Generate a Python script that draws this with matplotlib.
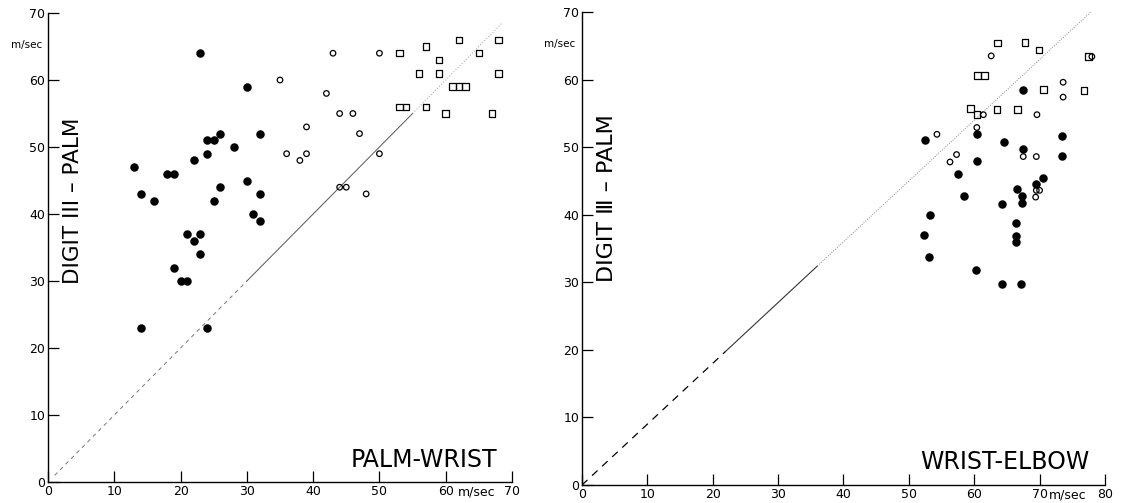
import numpy as np
import matplotlib
matplotlib.use('Agg')
import matplotlib.pyplot as plt
import matplotlib.transforms as mtransforms

# Left panel: PALM-WRIST vs DIGIT III-PALM
left_dot_x = [13, 14, 16, 18, 19, 23, 22, 24, 24, 25, 26, 28, 30, 32, 30, 26, 25, 32, 31, 32,
              21, 23, 22, 23, 19, 20, 21, 14, 24]
left_dot_y = [47, 43, 42, 46, 46, 64, 48, 49, 51, 51, 52, 50, 59, 52, 45, 44, 42, 43, 40, 39,
              37, 37, 36, 34, 32, 30, 30, 23, 23]
left_circ_x = [35, 43, 50, 42, 44, 46, 39, 47, 36, 38, 39, 50, 44, 45, 48]
left_circ_y = [60, 64, 64, 58, 55, 55, 53, 52, 49, 48, 49, 49, 44, 44, 43]
left_sq_x = [53, 57, 62, 68, 65, 59, 56, 59, 68, 61, 62, 63, 53, 54, 57, 60, 67]
left_sq_y = [64, 65, 66, 66, 64, 63, 61, 61, 61, 59, 59, 59, 56, 56, 56, 55, 55]

# Right panel: WRIST-ELBOW vs DIGIT III-PALM
right_dot_x = [67.5, 52.4, 60.5, 64.5, 67.5, 73.5, 73.5, 60.5, 57.5, 70.5, 69.5, 66.5, 58.5,
               67.3, 67.3, 64.3, 53.2, 66.4, 52.3, 66.4, 66.4, 53.1, 60.3, 64.3, 67.2]
right_dot_y = [58.5, 51, 52, 50.7, 49.7, 51.6, 48.7, 48, 46, 45.5, 44.6, 43.8, 42.8,
               42.7, 41.8, 41.6, 40, 38.7, 37, 36.9, 36, 33.8, 31.8, 29.7, 29.7]
right_circ_x = [62.6, 73.6, 73.6, 69.6, 61.4, 54.3, 60.4, 57.3, 56.3, 67.5, 69.5, 69.5, 70.0, 69.4, 78]
right_circ_y = [63.5, 59.6, 57.4, 54.8, 54.8, 51.9, 52.9, 48.9, 47.8, 48.6, 48.6, 43.6, 43.6, 42.6, 63.4]
right_sq_x = [63.6, 67.8, 69.9, 77.5, 60.5, 61.6, 70.6, 76.8, 59.4, 63.5, 66.6, 60.4]
right_sq_y = [65.4, 65.5, 64.4, 63.4, 60.6, 60.6, 58.5, 58.4, 55.7, 55.6, 55.6, 54.8]

left_xticks = [0, 10, 20, 30, 40, 50, 60, 70]
right_xticks = [0, 10, 20, 30, 40, 50, 60, 70, 80]
yticks = [0, 10, 20, 30, 40, 50, 60, 70]

fig = plt.figure(figsize=(11.22, 5.03), dpi=100)
ax1 = fig.add_axes([0.0428, 0.0417, 0.4135, 0.9324])
ax2 = fig.add_axes([0.5187, 0.0358, 0.4661, 0.9404])


def style_axes(ax, xmax, xticks, ylab, ylab_pos, ylab_size, xlab, xlab_pos, unit_x):
    ax.set_xlim(0, xmax)
    ax.set_ylim(0, 70)
    ax.spines['top'].set_visible(False)
    ax.spines['right'].set_visible(False)
    ax.spines['left'].set_linewidth(1.0)
    ax.spines['bottom'].set_linewidth(1.0)
    ax.set_xticks(xticks)
    ax.set_yticks(yticks)
    ax.tick_params(direction='in', length=8, width=0.9, labelsize=9, pad=2)
    ax.text(ylab_pos[0], ylab_pos[1], ylab, transform=ax.transAxes, rotation=90,
            ha='center', va='center', fontsize=ylab_size)
    ax.text(xlab_pos[0], xlab_pos[1], xlab, transform=ax.transAxes, ha='right', va='center',
            fontsize=17)
    ax.text(-0.012, 65.2, 'm/sec', transform=mtransforms.blended_transform_factory(ax.transAxes, ax.transData),
            ha='right', va='center', fontsize=7.5)
    trans = mtransforms.blended_transform_factory(ax.transData, ax.transAxes)
    ax.text(unit_x, -0.0075, 'm/sec', transform=trans, ha='center', va='top', fontsize=9)


# left panel
ax1.plot([1, 30], [1, 30], color='#777777', lw=0.7, ls=(0, (4, 4)))
ax1.plot([30, 55], [30, 55], color='#555555', lw=0.7)
ax1.plot([55, 68.5], [55, 68.5], color='#999999', lw=0.7, ls=(0, (1, 2)))
ax1.scatter(left_dot_x, left_dot_y, s=26, color='black', zorder=3)
ax1.scatter(left_circ_x, left_circ_y, s=16, facecolors='none', edgecolors='black', linewidths=0.9, zorder=3)
ax1.scatter(left_sq_x, left_sq_y, s=22, marker='s', facecolors='none', edgecolors='black', linewidths=0.9, zorder=3)
style_axes(ax1, 70, left_xticks, 'DIGIT III – PALM', (0.053, 0.60), 15.5,
           'PALM-WRIST', (0.968, 0.047), 64.7)

# right panel
ax2.plot([0, 22], [0, 19.8], color='black', lw=0.9, ls=(0, (6, 5)))
ax2.plot([22, 36], [19.8, 32.4], color='#333333', lw=0.8)
ax2.plot([36, 78.5], [32.4, 70.6], color='#888888', lw=0.7, ls=(0, (1, 1.5)))
ax2.scatter(right_dot_x, right_dot_y, s=26, color='black', zorder=3)
ax2.scatter(right_circ_x, right_circ_y, s=16, facecolors='none', edgecolors='black', linewidths=0.9, zorder=3)
ax2.scatter(right_sq_x, right_sq_y, s=22, marker='s', facecolors='none', edgecolors='black', linewidths=0.9, zorder=3)
style_axes(ax2, 80, right_xticks, 'DIGIT Ⅲ – PALM', (0.047, 0.607), 16,
           'WRIST-ELBOW', (0.971, 0.049), 74.3)

fig.savefig('out.png', dpi=100)
